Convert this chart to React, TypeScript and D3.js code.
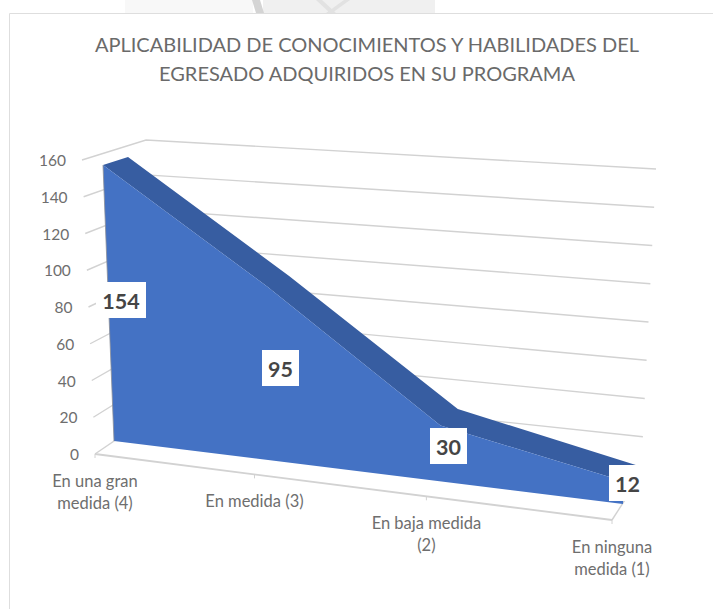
import React from "react";
import * as d3 from "d3";

const titleLines = ["APLICABILIDAD DE CONOCIMIENTOS Y HABILIDADES DEL", "EGRESADO ADQUIRIDOS EN SU PROGRAMA"];
const categories = [["En una gran", "medida (4)"], ["En medida (3)"], ["En baja medida", "(2)"], ["En ninguna", "medida (1)"]];
const values = [154, 95, 30, 12];
const yTicks = [0, 20, 40, 60, 80, 100, 120, 140, 160];
const catFractions = [0, 0.3085, 0.641, 1];

// Perspective frame of the 3D chart
const wallFrontX = d3.scaleLinear().domain([0, 160]).range([95, 82]);
const wallFrontY = d3.scaleLinear().domain([0, 160]).range([454, 160]);
const backLeftX = d3.scaleLinear().domain([0, 160]).range([147, 146]);
const backLeftY = d3.scaleLinear().domain([0, 160]).range([418.7, 140]);
const backRightX = d3.scaleLinear().domain([0, 160]).range([641, 656]);
const backRightY = d3.scaleLinear().domain([0, 160]).range([475, 169]);
const floorX = d3.scaleLinear().domain([0, 1]).range([95, 612]);
const floorY = d3.scaleLinear().domain([0, 1]).range([454, 520]);
const planeX = d3.scaleLinear().domain([0, 1]).range([114, 623]);
const planeY = d3.scaleLinear().domain([0, 1]).range([441, 504]);
const leanX = d3.scaleLinear().domain([0, 1]).range([-0.0714, 0.05]);
const unitY = d3.scaleLinear().domain([0, 1]).range([1.792, 1.9]);
const depthX = d3.scaleLinear().domain([0, 1]).range([25, 13]);
const depthY = d3.scaleLinear().domain([0, 0.3085, 0.641, 1]).range([-8, -11, -16.5, -16]);

const front = (t: number, v: number): [number, number] => [planeX(t) + leanX(t) * v, planeY(t) - unitY(t) * v];
const back = (t: number, v: number): [number, number] => {
  const [x, y] = front(t, v);
  return [x + depthX(t), y + depthY(t)];
};

const topPts = values.map((v, i) => front(catFractions[i], v));
const backPts = values.map((v, i) => back(catFractions[i], v));
const pathOf = d3.line();
const frontFace = pathOf([front(0, 0), ...topPts, front(1, 0)]) + "Z";
const topFace = pathOf([...topPts, ...backPts.slice().reverse()]) + "Z";

const labelBoxes = [
  { cx: 121, cy: 300, w: 50 },
  { cx: 280.5, cy: 368, w: 37 },
  { cx: 448.5, cy: 446, w: 37 },
  { cx: 627.5, cy: 483, w: 37 },
];

const FONT = "Lato, Carlito, sans-serif";
const GRID = "#d2d2d2";

export default function App() {
  return (
    <svg width={713} height={609} style={{ position: "absolute", left: 0, top: 0, background: "#fff" }} fontFamily={FONT}>
      <g stroke="none">
        <rect x={125} y={0} width={128} height={13} fill="#f8f8f8" />
        <rect x={263} y={0} width={172} height={13} fill="#f0f0f0" />
        <path d="M252 0H260L264 13H256Z" fill="#d4d4d4" />
        <path d="M316 0L330 13H336L322 0ZM344 0L326 13H332L350 0Z" fill="#e2e2e2" />
      </g>
      <path d="M9.5 609V13.5H713" fill="none" stroke="#dedede" strokeWidth={1} />
      <g fill="#6a6a6a" fontSize={20} textAnchor="middle">
        {titleLines.map((l, i) => (
          <text key={i} x={367} y={44 + i * 29} dominantBaseline="central">{l}</text>
        ))}
      </g>
      <g stroke={GRID} strokeWidth={1.4} fill="none">
        {yTicks.filter((v) => v > 0).map((v) => (
          <path key={v} d={pathOf([[wallFrontX(v), wallFrontY(v)], [backLeftX(v), backLeftY(v)], [backRightX(v), backRightY(v)]])!} />
        ))}
        <path d={pathOf([[wallFrontX(0), wallFrontY(0)], [backLeftX(0), backLeftY(0)]])!} />
        <path d={pathOf([[floorX(1), floorY(1)], [backRightX(0), backRightY(0)]])!} />
        <path d={pathOf([[floorX(0), floorY(0)], [floorX(1), floorY(1)]])!} strokeWidth={1.8} />
        {catFractions.map((t, i) => (
          <path key={i} d={pathOf([[floorX(t), floorY(t)], [floorX(t), floorY(t) + 4]])!} strokeWidth={1} />
        ))}
      </g>
      <path d={topFace} fill="#375DA1" />
      <path d={frontFace} fill="#4472C4" />
      <path d={pathOf([front(0, 0), front(0, values[0])])!} stroke="#8b8f98" strokeWidth={0.8} fill="none" />
      <g fill="#6e6e6e">
        {yTicks.map((v) => (
          <text key={v} x={wallFrontX(v) - 16} y={wallFrontY(v)} fontSize={15.5} textAnchor="end" dominantBaseline="central">{v}</text>
        ))}
        {categories.map((lines, i) =>
          lines.map((l, j) => (
            <text key={l} x={floorX(catFractions[i])} y={floorY(catFractions[i]) + 27 + j * 21.5} fontSize={16.5} textAnchor="middle" dominantBaseline="central">{l}</text>
          ))
        )}
      </g>
      {values.map((v, i) => {
        const b = labelBoxes[i];
        return (
          <g key={v}>
            <rect x={b.cx - b.w / 2} y={b.cy - 18} width={b.w} height={36} fill="#fff" />
            <text x={b.cx} y={b.cy + 1} textAnchor="middle" dominantBaseline="central" fontSize={21.5} fontWeight={700} fill="#454545">{v}</text>
          </g>
        );
      })}
    </svg>
  );
}
